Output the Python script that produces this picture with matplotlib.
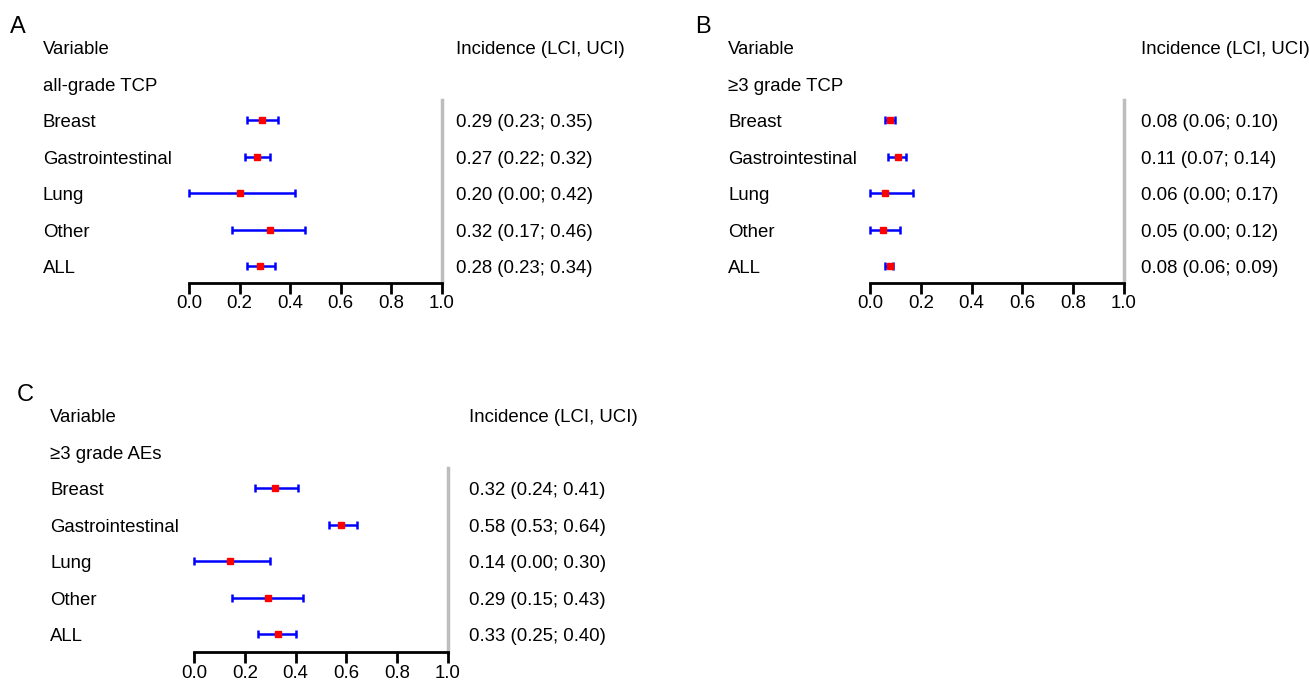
import matplotlib.pyplot as plt
from matplotlib.transforms import blended_transform_factory

plt.rcParams['font.family'] = ['Liberation Sans', 'DejaVu Sans']

# data per panel
groups = ['Breast', 'Gastrointestinal', 'Lung', 'Other', 'ALL']

a_est = [0.29, 0.27, 0.20, 0.32, 0.28]
a_lci = [0.23, 0.22, 0.00, 0.17, 0.23]
a_uci = [0.35, 0.32, 0.42, 0.46, 0.34]

b_est = [0.08, 0.11, 0.06, 0.05, 0.08]
b_lci = [0.06, 0.07, 0.00, 0.00, 0.06]
b_uci = [0.10, 0.14, 0.17, 0.12, 0.09]

c_est = [0.32, 0.58, 0.14, 0.29, 0.33]
c_lci = [0.24, 0.53, 0.00, 0.15, 0.25]
c_uci = [0.41, 0.64, 0.30, 0.43, 0.40]

W, H = 1309, 684
fig = plt.figure(figsize=(W / 100, H / 100), dpi=100)

FS = 13.4
DY = 0.07  # small downward nudge of the text rows


def panel(letter, subgroup, est, lci, uci, x_lab, x0, x1, y_top_row, y_axis, x_txt):
    # y_top_row: pixel y of the "Variable" row, rows every 36.5 px
    step = 36.5
    top = y_top_row - 0.5 * step
    ax = fig.add_axes([x0 / W, 1 - y_axis / H, (x1 - x0) / W, (y_axis - top) / H])
    nrow = (y_axis - y_top_row) / step
    ax.set_xlim(0, 1)
    ax.set_ylim(nrow, -0.5)
    ax.patch.set_alpha(0)
    for s in ['top', 'right', 'left']:
        ax.spines[s].set_visible(False)
    ax.spines['bottom'].set_linewidth(2)
    ax.set_yticks([])
    ax.set_xticks([0, 0.2, 0.4, 0.6, 0.8, 1.0])
    ax.set_xticklabels(['0.0', '0.2', '0.4', '0.6', '0.8', '1.0'], fontsize=FS)
    ax.tick_params(axis='x', length=8, width=2, pad=1, colors='black')

    rows = list(range(2, 2 + len(est)))
    # reference line at 1
    ax.plot([1, 1], [1.45, nrow], color='#bdbdbd', lw=2.5, clip_on=False, zorder=1)
    xerr = [[e - l for e, l in zip(est, lci)], [u - e for e, u in zip(est, uci)]]
    ax.errorbar(est, rows, xerr=xerr, fmt='none', ecolor='#0000ff', elinewidth=1.8,
                capsize=3, capthick=1.8, clip_on=False, zorder=2)
    ax.plot(est, rows, 's', color='#ff0000', ms=5, mec='#ff0000', clip_on=False, zorder=3)

    tr = blended_transform_factory(fig.transFigure, ax.transData)
    ax.text(x_lab / W, 0 + DY, 'Variable', transform=tr, fontsize=FS, va='center', ha='left')
    ax.text(x_lab / W, 1 + DY, subgroup, transform=tr, fontsize=FS, va='center', ha='left')
    ax.text(x_txt / W, 0 + DY, 'Incidence (LCI, UCI)', transform=tr, fontsize=FS,
            va='center', ha='left')
    for r, g, e, l, u in zip(rows, groups, est, lci, uci):
        ax.text(x_lab / W, r + DY, g, transform=tr, fontsize=FS, va='center', ha='left')
        ax.text(x_txt / W, r + DY, '%.2f (%.2f; %.2f)' % (e, l, u), transform=tr,
                fontsize=FS, va='center', ha='left')
    fig.text((x_lab - 33) / W, 1 - (y_top_row - 20) / H, letter, fontsize=17,
             va='center', ha='left')


panel('A', 'all-grade TCP', a_est, a_lci, a_uci, 43, 189, 442, 47, 283, 456)
panel('B', '≥3 grade TCP', b_est, b_lci, b_uci, 728, 870, 1124, 47, 283, 1141)
panel('C', '≥3 grade AEs', c_est, c_lci, c_uci, 50, 194, 448, 415, 652, 469)

fig.savefig('out.png', dpi=100)
